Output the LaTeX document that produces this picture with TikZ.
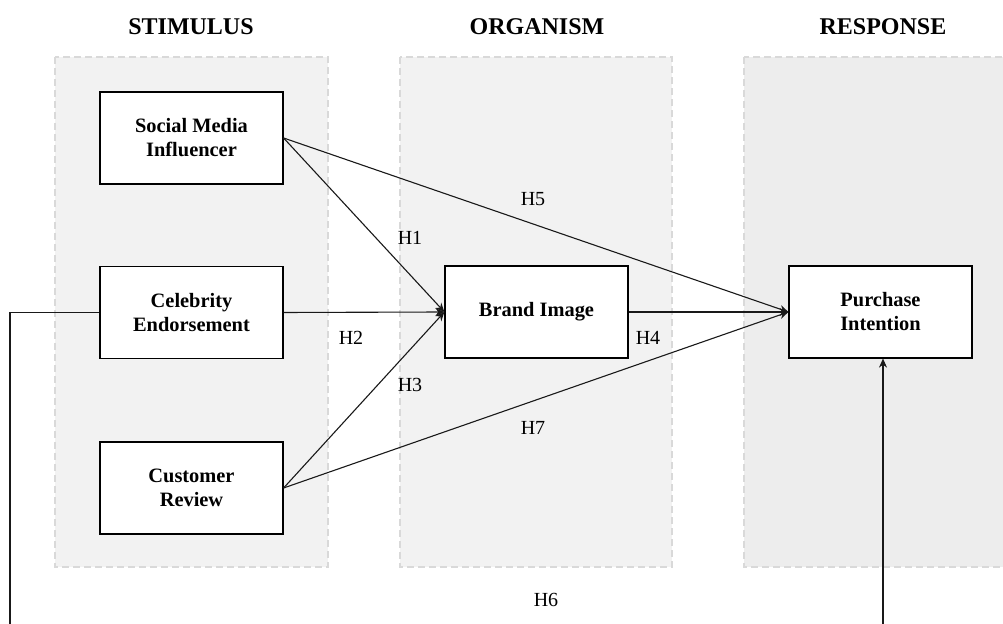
\documentclass[tikz,border=0pt]{standalone}
\usepackage{fontspec}
\setmainfont{Liberation Serif}
\usepackage{tikz}
\usetikzlibrary{arrows.meta, positioning}

\tikzset{
  panel/.style={draw=black!15, fill=black!5, dash pattern=on 3.5pt off 2pt, line width=1pt},
  factor/.style={draw=black, fill=white, line width=0.6pt, minimum width=91.5pt, minimum height=46pt, align=center, font=\fontsize{10.2}{12}\selectfont\bfseries},
  stage/.style={font=\fontsize{12}{14}\selectfont\bfseries},
  hyp/.style={font=\fontsize{10}{12}\selectfont},
  link/.style={line width=0.55pt, black!90, -{Stealth[length=4.5pt,width=4pt]}},
}

\begin{document}
\begin{tikzpicture}[x=0.5pt,y=-0.5pt]
  \useasboundingbox (0,0) rectangle (1003,624);
  \clip (0,0) rectangle (1003,624);
  \fill [white] (0,0) rectangle (1003,624);

  % stage panels
  \draw [panel] (55,57) rectangle (328,567);
  \draw [panel] (400,57) rectangle (672,567);
  \draw [panel, fill=black!7] (744,57) rectangle (1012,567);

  \node [stage] (stim) at (191,27) {STIMULUS};
  \node [stage] (org) at (537,27) {ORGANISM};
  \node [stage] (resp) at (883,27) {RESPONSE};

  % constructs
  \node [factor] (smi) at (191.5,138) {Social Media\\Influencer};
  \node [factor] (ce) at (191.5,312.5) {Celebrity\\Endorsement};
  \node [factor] (cr) at (191.5,488) {Customer\\Review};
  \node [factor] (bi) at (536.5,312) {Brand Image};
  \node [factor] (pi) at (880.5,312) {Purchase\\Intention};

  % hypotheses
  \draw [link] (smi.east) -- (bi.west);
  \draw [link] (ce.east) -- (bi.west);
  \draw [link] (cr.east) -- (bi.west);
  \draw [link] (bi.east) -- (pi.west);
  \draw [link] (smi.east) -- (pi.west);
  \draw [link] (cr.east) -- (pi.west);

  \coordinate (h6l) at (10,660);
  \coordinate (h6r) at (883,660);
  \draw [link] (ce.west) -| (h6l) -- (h6r) -- (h6r |- pi.south);

  \node [hyp] (h1) at (410,238) {H1};
  \node [hyp] (h2) at (351,338) {H2};
  \node [hyp] (h3) at (410,385) {H3};
  \node [hyp] (h4) at (648,338) {H4};
  \node [hyp] (h5) at (533,199) {H5};
  \node [hyp] (h6) at (546,600) {H6};
  \node [hyp] (h7) at (533,428) {H7};
\end{tikzpicture}
\end{document}
